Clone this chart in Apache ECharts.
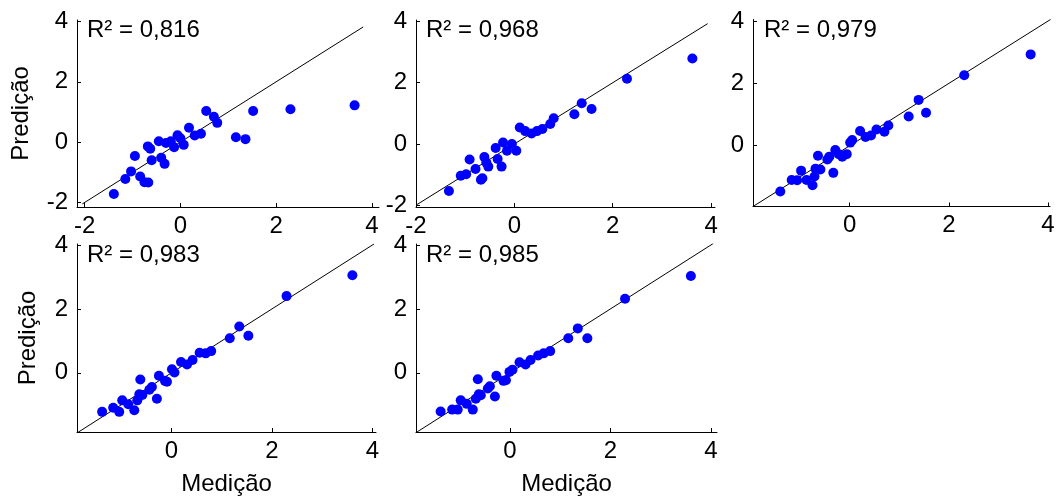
<!DOCTYPE html>
<html><head><meta charset="utf-8">
<script src="https://cdn.jsdelivr.net/npm/echarts@6/dist/echarts.min.js"></script>
<style>html,body{margin:0;padding:0;background:#fff}#c{width:1058px;height:498px}</style>
</head><body><div id="c"></div>
<script>
// ---- data ----
const r2Labels = ['R² = 0,816', 'R² = 0,968', 'R² = 0,979', 'R² = 0,983', 'R² = 0,985'];
const xAxisName = 'Medição';
const yAxisName = 'Predição';

const ticksP1 = [-2, 0, 2, 4];
const ticksP2 = [-2, 0, 2, 4];
const ticksP3 = [0, 2, 4];
const ticksP4 = [0, 2, 4];
const ticksP5 = [0, 2, 4];

const med1 = [-1.39,-1.15,-1.03,-0.95,-0.84,-0.75,-0.67,-0.68,-0.63,-0.60,-0.45,-0.40,-0.33,-0.30,-0.20,-0.13,-0.06,0.00,0.07,0.18,0.30,0.43,0.54,0.70,0.77,1.16,1.36,1.52,2.30,3.64];
const pred1 = [-1.72,-1.22,-0.97,-0.46,-1.14,-1.33,-1.34,-0.14,-0.22,-0.60,0.03,-0.52,-0.72,-0.03,0.03,-0.17,0.23,0.13,-0.09,0.48,0.22,0.28,1.03,0.84,0.64,0.16,0.10,1.03,1.09,1.22];

const med2 = [-1.33,-1.09,-0.98,-0.91,-0.79,-0.68,-0.65,-0.61,-0.57,-0.53,-0.38,-0.34,-0.26,-0.23,-0.15,-0.05,0.04,0.11,0.22,0.35,0.46,0.57,0.73,0.80,1.22,1.37,1.57,2.29,3.62];
const pred2 = [-1.54,-1.04,-0.99,-0.51,-0.82,-1.17,-1.12,-0.43,-0.61,-0.74,-0.13,-0.49,-0.74,0.05,-0.22,0.00,-0.22,0.54,0.42,0.34,0.42,0.49,0.65,0.84,0.97,1.33,1.14,2.13,2.79];

const med3 = [-1.40,-1.17,-1.06,-0.98,-0.87,-0.75,-0.71,-0.69,-0.64,-0.59,-0.45,-0.41,-0.33,-0.29,-0.22,-0.15,-0.06,0.01,0.05,0.21,0.32,0.43,0.54,0.70,0.78,1.19,1.39,1.54,2.31,3.65];
const pred3 = [-1.47,-1.10,-1.11,-0.80,-1.10,-1.27,-0.99,-0.74,-0.32,-0.76,-0.44,-0.35,-0.87,-0.14,-0.27,-0.35,-0.27,0.10,0.18,0.47,0.28,0.33,0.52,0.45,0.65,0.94,1.47,1.06,2.26,2.93];

const med4 = [-1.38,-1.16,-1.04,-0.98,-0.86,-0.74,-0.68,-0.64,-0.62,-0.58,-0.44,-0.39,-0.29,-0.25,-0.13,-0.09,0.01,0.06,0.19,0.31,0.42,0.56,0.68,0.79,1.16,1.35,1.53,2.29,3.60];
const pred4 = [-1.22,-1.09,-1.22,-0.86,-0.98,-1.17,-0.86,-0.67,-0.21,-0.69,-0.53,-0.44,-0.81,-0.09,-0.25,-0.28,0.11,0.01,0.34,0.26,0.40,0.63,0.61,0.68,1.08,1.45,1.16,2.40,3.05];

const med5 = [-1.38,-1.15,-1.04,-0.98,-0.86,-0.74,-0.68,-0.62,-0.64,-0.58,-0.44,-0.40,-0.30,-0.27,-0.13,-0.08,-0.01,0.05,0.19,0.31,0.41,0.56,0.67,0.80,1.16,1.35,1.54,2.29,3.60];
const pred5 = [-1.21,-1.15,-1.15,-0.86,-0.97,-1.15,-0.81,-0.67,-0.20,-0.70,-0.49,-0.42,-0.74,-0.09,-0.25,-0.23,0.03,0.10,0.33,0.26,0.40,0.54,0.61,0.68,1.08,1.39,1.08,2.32,3.03];

// 1:1 reference line ends (value on both axes)
const lineFrom = [-2.05, -1.98, -1.95, -1.88, -1.87];
const lineTo   = [3.82, 3.93, 4.05, 4.03, 4.05];

// ---- layout ----
const panels = [
  {med: med1, pred: pred1, ticks: ticksP1, grid: {left: 77, top: 20, width: 302, height: 187}, x: [-2.16, 4.15], y: [-2.15, 4.05], yName: true, xName: false, yGap: 44, tx: 87, ty: 18},
  {med: med2, pred: pred2, ticks: ticksP2, grid: {left: 416, top: 20, width: 299, height: 187}, x: [-2.0, 4.08], y: [-2.06, 4.05], yName: false, xName: false, tx: 426, ty: 18},
  {med: med3, pred: pred3, ticks: ticksP3, grid: {left: 753, top: 19.5, width: 297, height: 187}, x: [-1.95, 4.04], y: [-1.95, 4.05], yName: false, xName: false, tx: 764, ty: 18},
  {med: med4, pred: pred4, ticks: ticksP4, grid: {left: 77, top: 244, width: 299, height: 188}, x: [-1.88, 4.07], y: [-1.85, 4.03], yName: true, xName: true, yGap: 37, tx: 87, ty: 243},
  {med: med5, pred: pred5, ticks: ticksP5, grid: {left: 416, top: 244, width: 301, height: 188}, x: [-1.87, 4.12], y: [-1.85, 4.03], yName: false, xName: true, tx: 426, ty: 243}
];

const FONT = 'Liberation Sans, Arial, sans-serif';
const FS = 24;

const grids = [], xAxes = [], yAxes = [], series = [], graphics = [];
panels.forEach((p, i) => {
  grids.push(Object.assign({containLabel: false}, p.grid));
  const axisCommon = {
    axisLine: {show: true, onZero: false, lineStyle: {color: '#000', width: 1}},
    axisTick: {show: true, inside: true, length: 4, customValues: p.ticks, lineStyle: {color: '#000'}},
    axisLabel: {customValues: p.ticks, color: '#000', fontSize: FS, fontFamily: FONT, margin: 7},
    splitLine: {show: false}
  };
  xAxes.push(Object.assign({}, axisCommon, {
    type: 'value', gridIndex: i, min: p.x[0], max: p.x[1],
    name: p.xName ? xAxisName : '', nameLocation: 'middle', nameGap: 40,
    nameTextStyle: {color: '#000', fontSize: FS, fontFamily: FONT}
  }));
  yAxes.push(Object.assign({}, axisCommon, {
    type: 'value', gridIndex: i, min: p.y[0], max: p.y[1],
    axisLabel: Object.assign({}, axisCommon.axisLabel, {margin: 9}),
    name: p.yName ? yAxisName : '', nameLocation: 'middle', nameGap: p.yGap || 40, nameRotate: 90,
    nameTextStyle: {color: '#000', fontSize: FS, fontFamily: FONT}
  }));
  series.push({
    type: 'line', xAxisIndex: i, yAxisIndex: i, silent: true, symbol: 'none',
    lineStyle: {color: '#000', width: 1}, z: 1,
    data: [[lineFrom[i], lineFrom[i]], [lineTo[i], lineTo[i]]]
  });
  series.push({
    type: 'scatter', xAxisIndex: i, yAxisIndex: i, symbol: 'circle', symbolSize: 10,
    itemStyle: {color: '#0000ff', opacity: 1}, z: 2,
    data: p.med.map((v, k) => [v, p.pred[k]])
  });
  graphics.push({
    type: 'text', left: p.tx, top: p.ty,
    style: {text: r2Labels[i], fill: '#000', font: FS + 'px ' + FONT}
  });
});

const chart = echarts.init(document.getElementById('c'), null, {renderer: 'canvas'});
chart.setOption({
  animation: false,
  backgroundColor: '#fff',
  grid: grids, xAxis: xAxes, yAxis: yAxes, series: series, graphic: graphics
});
</script>
</body></html>
